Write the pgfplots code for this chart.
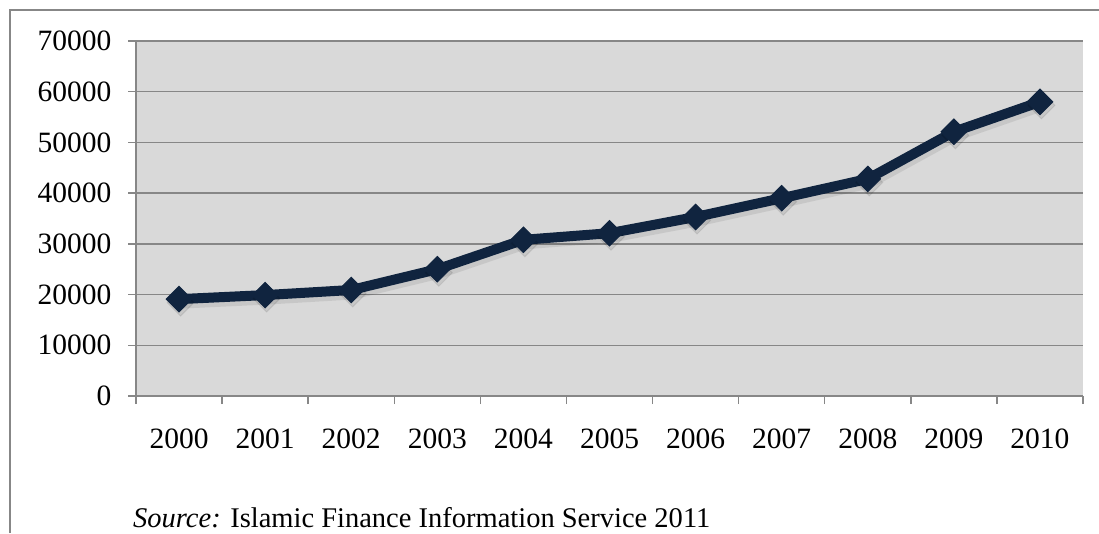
\documentclass[border=0pt]{standalone}
\usepackage{pgfplots}
\pgfplotsset{compat=1.18}
\usepackage{fontspec}
\setmainfont{Liberation Serif}
\definecolor{plotbg}{HTML}{D9D9D9}
\definecolor{gridgray}{HTML}{878787}
\definecolor{navy}{HTML}{10243F}
\begin{document}
\begin{tikzpicture}[x=1pt,y=1pt]
\useasboundingbox (0,0) rectangle (1099,533);
% outer chart frame (cut by the picture at right and bottom)
\draw[gridgray, line width=2pt] (10,0) -- (10,523) -- (1099,523);
\begin{axis}[
  at={(136pt,137pt)}, anchor=south west,
  scale only axis, width=947pt, height=355pt,
  xmin=-0.5, xmax=10.5, ymin=0, ymax=70000,
  axis background/.style={fill=plotbg},
  axis x line*=bottom, axis y line*=left,
  axis line style={gridgray, line width=1.5pt, -},
  scaled y ticks=false,
  ytick={0,10000,20000,30000,40000,50000,60000,70000},
  yticklabels={0,10000,20000,30000,40000,50000,60000,70000},
  xtick={0,...,10},
  xticklabels={2000,2001,2002,2003,2004,2005,2006,2007,2008,2009,2010},
  minor xtick={-0.5,0.5,...,10.5},
  tick align=outside,
  major tick length=8pt, minor tick length=8pt,
  major x tick style={draw=none},
  every tick/.style={gridgray, line width=1.5pt},
  ymajorgrids,
  grid style={gridgray, line width=1.5pt},
  ticklabel style={font=\fontsize{29.5}{34}\selectfont},
  /pgf/number format/assume math mode=true,
  yticklabel style={xshift=-13pt},
  xticklabel style={yshift=-21pt},
  clip=false,
]
% soft shadow under the line
\addplot[black, opacity=0.08, line width=12pt, shift={(1.5pt,-3.5pt)},
  mark=square*, mark size=9.5pt, mark options={rotate=45, line width=1pt}]
  coordinates {
  (0,19100) (1,19900) (2,20900) (3,25000) (4,30800) (5,32100)
  (6,35300) (7,39000) (8,42800) (9,52100) (10,58000)
};
\addplot[navy, line width=10pt,
  mark=square*, mark size=9pt, mark options={rotate=45, line width=1pt}]
  coordinates {
  (0,19100) (1,19900) (2,20900) (3,25000) (4,30800) (5,32100)
  (6,35300) (7,39000) (8,42800) (9,52100) (10,58000)
};
\end{axis}
\node[anchor=base west, inner sep=0pt, font=\fontsize{28.5}{32}\selectfont]
  at (133,6) {\textit{Source:} Islamic Finance Information Service 2011};
\end{tikzpicture}
\end{document}
